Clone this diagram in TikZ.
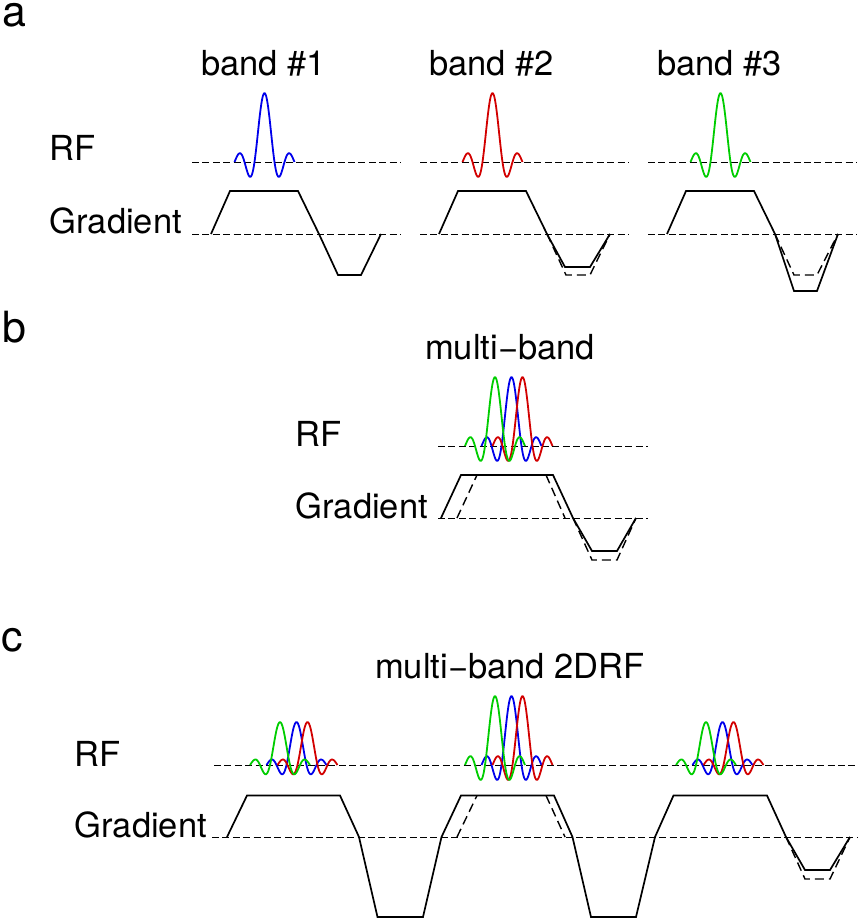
\documentclass[tikz,border=0pt]{standalone}
\usepackage{fontspec}
\setmainfont{TeX Gyre Heros}
\tikzset{
  zeroline/.style={line width=1pt,dash pattern=on 7pt off 3.4pt},
  gradline/.style={line width=1.7pt,line join=miter},
  graddash/.style={line width=1.4pt,dash pattern=on 9pt off 5pt},
  pulse/.style={line width=1.8pt,line join=round},
  panel/.style={font=\fontsize{43}{44}\selectfont,inner sep=0pt,anchor=base west},
  lab/.style={font=\fontsize{34.5}{35}\selectfont,inner sep=0pt,anchor=base west},
}
\definecolor{rfblue}{RGB}{0,0,235}
\definecolor{rfred}{RGB}{210,0,0}
\definecolor{rfgreen}{RGB}{0,205,0}
% #1 colour, #2 centre, #3 zero level, #4 height
\newcommand{\sincpulse}[4]{
  \draw[pulse,#1] plot[domain=-3:3,samples=60,smooth]
    ({#2+10*\x},{#3-#4*sin(180*\x)/(3.14159*\x)});
}
% three bands on one level
\newcommand{\multiband}[5]{
  \sincpulse{rfblue}{#2}{#4}{#5}
  \sincpulse{rfred}{#3}{#4}{#5}
  \sincpulse{rfgreen}{#1}{#4}{#5}
}
\begin{document}
\begin{tikzpicture}[x=1pt,y=-1pt]
  \useasboundingbox (0,0) rectangle (861,919);

  % panel a
  \node[panel] (panela) at (2,26) {a};
  \node[lab] (bandone) at (201,75) {band \#1};
  \node[lab] (bandtwo) at (429,75) {band \#2};
  \node[lab] (bandthree) at (657,75) {band \#3};
  \node[lab] (rfa) at (49.5,160) {RF};
  \node[lab] (grada) at (49.5,233) {Gradient};
  \foreach \dx in {0,228,456} {
    \draw[zeroline] (192+\dx,162) -- (401+\dx,162);
    \draw[zeroline] (192+\dx,234) -- (401+\dx,234);
    \draw[gradline] (211+\dx,234) -- (230+\dx,191) -- (298+\dx,191) -- (319+\dx,234);
  }
  \sincpulse{rfblue}{264.5}{162}{69}
  \sincpulse{rfred}{492.5}{162}{69}
  \sincpulse{rfgreen}{720.5}{162}{69}
  \draw[gradline] (319,234) -- (338,275) -- (361,275) -- (381,234);
  \draw[gradline] (547,234) -- (565,267) -- (590,267) -- (610,234);
  \draw[graddash] (547,234) -- (566,275) -- (590,275) -- (610,234);
  \draw[gradline] (775,234) -- (794,291) -- (817,291) -- (838,234);
  \draw[graddash] (775,234) -- (794,275) -- (817,275) -- (838,234);

  % panel b
  \node[panel] (panelb) at (2,342) {b};
  \node[lab] (titleb) at (425,359) {multi−band};
  \node[lab] (rfb) at (295.5,446) {RF};
  \node[lab] (gradb) at (295.5,518) {Gradient};
  \draw[zeroline] (438,446) -- (648,446);
  \draw[zeroline] (438,518) -- (648,518);
  \multiband{495}{511.5}{522.5}{446}{69}
  \draw[gradline] (441,518) -- (461,475) -- (553,475) -- (573,518) -- (592,551) -- (617,551) -- (636,518);
  \draw[graddash] (457,518) -- (477,475);
  \draw[graddash] (546,475) -- (565,518);
  \draw[graddash] (573,518) -- (592,560) -- (617,560) -- (636,518);

  % panel c
  \node[panel] (panelc) at (1,651) {c};
  \node[lab] (titlec) at (375,678) {multi−band 2DRF};
  \node[lab] (rfc) at (74.5,766) {RF};
  \node[lab] (gradc) at (74.5,837) {Gradient};
  \draw[zeroline] (214,765) -- (857,765);
  \draw[zeroline] (212,837) -- (857,837);
  \multiband{280}{296.5}{307.5}{765}{43}
  \multiband{495}{511.5}{522.5}{765}{69}
  \multiband{706}{722.5}{733.5}{765}{43}
  \draw[gradline] (227,837) -- (247,795.5) -- (340,795.5) -- (359,837) -- (377.5,917) -- (423,917) -- (441.5,837)
    -- (461,795.5) -- (554,795.5) -- (572.5,837) -- (591,917) -- (636,917) -- (655,837)
    -- (673.5,795.5) -- (767,795.5) -- (786,837) -- (805,870) -- (830,870) -- (850,837);
  \draw[graddash] (457,837) -- (477,795.5);
  \draw[graddash] (546,795.5) -- (565,837);
  \draw[graddash] (786,837) -- (805,879) -- (830,879) -- (850,837);
\end{tikzpicture}
\end{document}
